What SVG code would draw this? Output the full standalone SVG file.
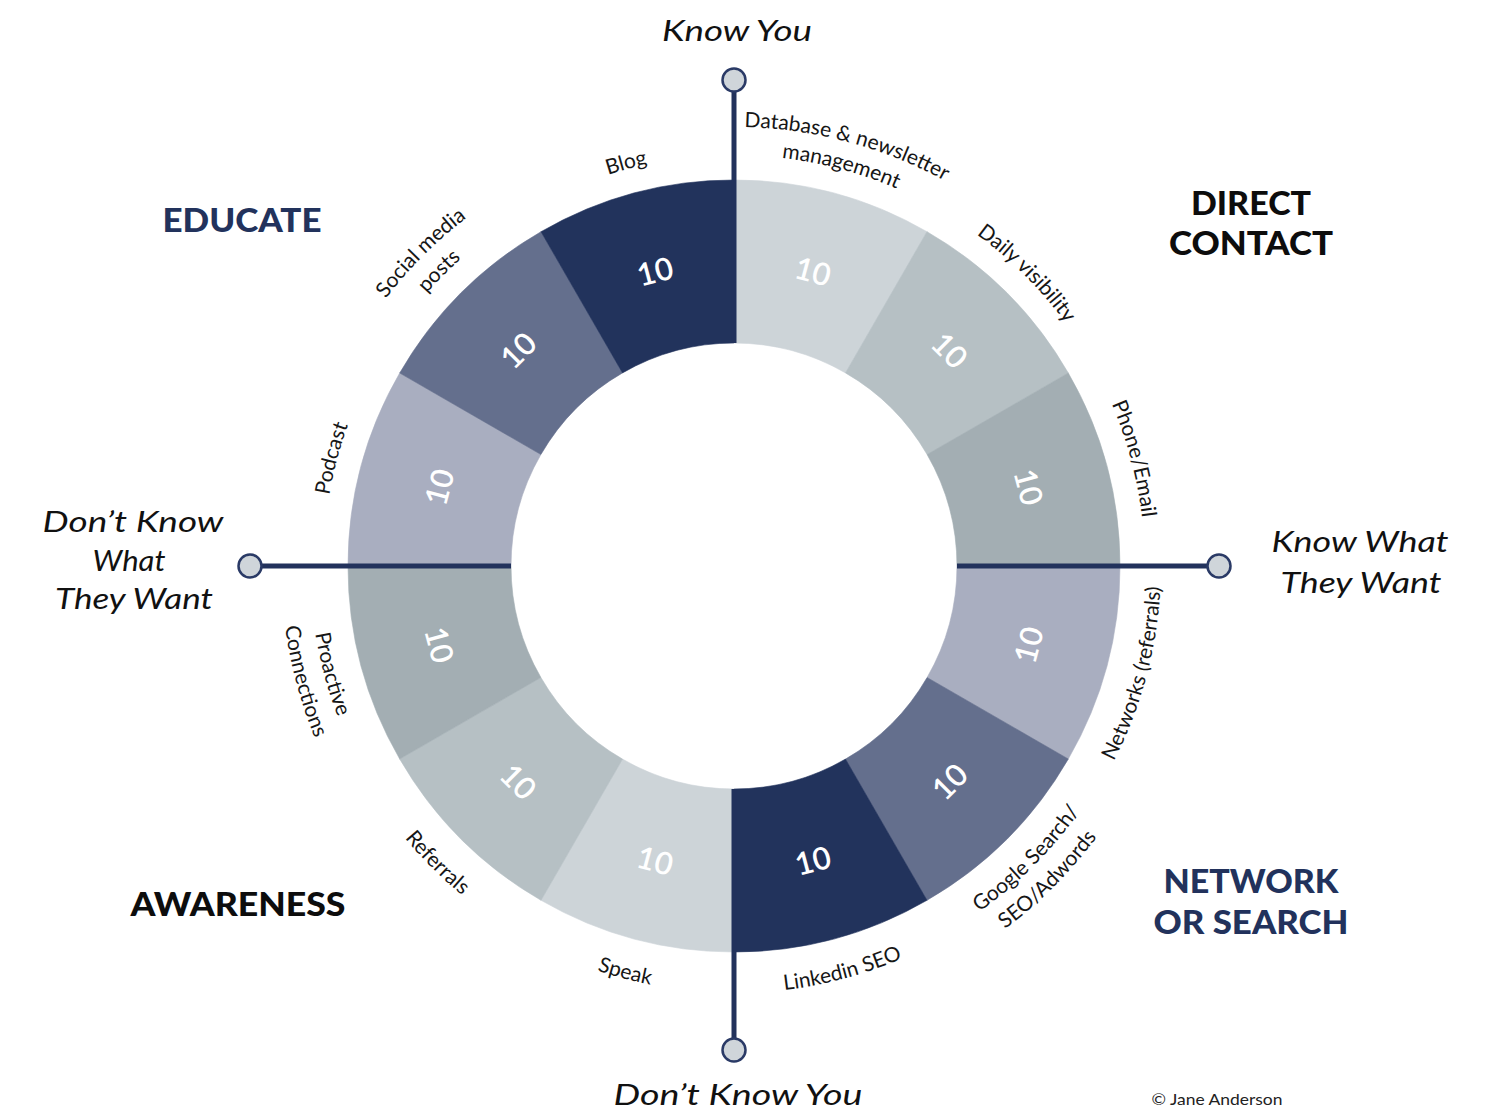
<svg xmlns="http://www.w3.org/2000/svg" xmlns:xlink="http://www.w3.org/1999/xlink" width="1491" height="1109" viewBox="0 0 1491 1109">
  <style>
    .lbl { font-family: Lato, "Noto Sans", "DejaVu Sans", sans-serif; font-size: 21px; fill: #161616; }
    .num { font-family: Lato, "Noto Sans", sans-serif; font-size: 31px; font-weight: 600; fill: #ffffff; text-anchor: middle; }
    .hd { font-family: Lato, "Noto Sans", sans-serif; font-size: 32px; font-weight: 900; text-anchor: middle; }
    .navy { fill: #22325c; }
    .black { fill: #0d0d0d; }
    .pole { font-family: Lato, "Noto Sans", sans-serif; font-style: italic; font-size: 29px; fill: #111111; text-anchor: middle; }
    .axis { stroke: #22325c; stroke-width: 5; fill: none; }
    .knob { fill: #cfd5da; stroke: #2a3a66; stroke-width: 2.5; }
    .c1 { fill: #cdd4d8; stroke: #cdd4d8; }
    .c2 { fill: #b6c0c4; stroke: #b6c0c4; }
    .c3 { fill: #a3aeb3; stroke: #a3aeb3; }
    .c4 { fill: #a9aec0; stroke: #a9aec0; }
    .c5 { fill: #646f8d; stroke: #646f8d; }
    .c6 { fill: #22335c; stroke: #22335c; }
    .seg { stroke-width: 0.6; }
  </style>
  <defs>
    <!-- label baselines: clockwise arcs for the upper half, counter-clockwise for the lower half -->
    <path id="pBlog" d="M378.1,360.5 A411,411 0 0 1 939.5,210.1"/>
    <path id="pDb1" d="M514.5,185.8 A439,439 0 0 1 1114.2,346.5"/>
    <path id="pDb2" d="M528.5,210.1 A411,411 0 0 1 1089.9,360.5"/>
    <path id="pSoc1" d="M295,566 A439,439 0 0 1 734,127"/>
    <path id="pSoc2" d="M323,566 A411,411 0 0 1 734,155"/>
    <path id="pDaily" d="M734,155 A411,411 0 0 1 1145,566"/>
    <path id="pPod" d="M378.1,771.5 A411,411 0 0 1 528.5,210.1"/>
    <path id="pPhone" d="M939.5,210.1 A411,411 0 0 1 1089.9,771.5"/>
    <path id="pNet" d="M947.5,935.8 A427,427 0 0 0 1103.8,352.5"/>
    <path id="pLink" d="M520.5,935.8 A427,427 0 0 0 1103.8,779.5"/>
    <path id="pSpeak" d="M364.2,779.5 A427,427 0 0 0 947.5,935.8"/>
    <path id="pRef" d="M307,566 A427,427 0 0 0 734,993"/>
    <path id="pGoo1" d="M734,990 A424,424 0 0 0 1158,566"/>
    <path id="pGoo2" d="M734,1019 A453,453 0 0 0 1187,566"/>
    <path id="pPro1" d="M366.8,354 A424,424 0 0 0 522,933.2"/>
    <path id="pPro2" d="M341.7,339.5 A453,453 0 0 0 507.5,958.3"/>
  </defs>

  <rect width="1491" height="1109" fill="#ffffff"/>

  <!-- ring segments, clockwise from 12 o'clock -->
  <g id="seg-database">
    <path class="seg c1" d="M734,180 A386,386 0 0 1 927,231.7 L845.5,372.9 A223,223 0 0 0 734,343 Z"/>
    <text class="num" transform="translate(812.9,271.4) rotate(15)" dy="0.36em">10</text>
    <text class="lbl" text-anchor="middle"><textPath href="#pDb1" xlink:href="#pDb1" startOffset="50%">Database &amp; newsletter</textPath></text>
    <text class="lbl" text-anchor="middle"><textPath href="#pDb2" xlink:href="#pDb2" startOffset="50%">management</textPath></text>
  </g>
  <g id="seg-daily">
    <path class="seg c2" d="M927,231.7 A386,386 0 0 1 1068.3,373 L927.1,454.5 A223,223 0 0 0 845.5,372.9 Z"/>
    <text class="num" transform="translate(949.7,350.3) rotate(45)" dy="0.36em">10</text>
    <text class="lbl" text-anchor="middle"><textPath href="#pDaily" xlink:href="#pDaily" startOffset="50%">Daily visibility</textPath></text>
  </g>
  <g id="seg-phone">
    <path class="seg c3" d="M1068.3,373 A386,386 0 0 1 1120,566 L957,566 A223,223 0 0 0 927.1,454.5 Z"/>
    <text class="num" transform="translate(1028.6,487.1) rotate(75)" dy="0.36em">10</text>
    <text class="lbl" text-anchor="middle"><textPath href="#pPhone" xlink:href="#pPhone" startOffset="50%">Phone/Email</textPath></text>
  </g>
  <g id="seg-networks">
    <path class="seg c4" d="M1120,566 A386,386 0 0 1 1068.3,759 L927.1,677.5 A223,223 0 0 0 957,566 Z"/>
    <text class="num" transform="translate(1028.6,644.9) rotate(-75)" dy="0.36em">10</text>
    <text class="lbl" text-anchor="middle"><textPath href="#pNet" xlink:href="#pNet" startOffset="50%">Networks (referrals)</textPath></text>
  </g>
  <g id="seg-google">
    <path class="seg c5" d="M1068.3,759 A386,386 0 0 1 927,900.3 L845.5,759.1 A223,223 0 0 0 927.1,677.5 Z"/>
    <text class="num" transform="translate(949.7,781.7) rotate(-45)" dy="0.36em">10</text>
    <text class="lbl" text-anchor="middle"><textPath href="#pGoo1" xlink:href="#pGoo1" startOffset="50%">Google Search/</textPath></text>
    <text class="lbl" text-anchor="middle"><textPath href="#pGoo2" xlink:href="#pGoo2" startOffset="50%">SEO/Adwords</textPath></text>
  </g>
  <g id="seg-linkedin">
    <path class="seg c6" d="M927,900.3 A386,386 0 0 1 734,952 L734,789 A223,223 0 0 0 845.5,759.1 Z"/>
    <text class="num" transform="translate(812.9,860.6) rotate(-15)" dy="0.36em">10</text>
    <text class="lbl" text-anchor="middle"><textPath href="#pLink" xlink:href="#pLink" startOffset="50%">Linkedin SEO</textPath></text>
  </g>
  <g id="seg-speak">
    <path class="seg c1" d="M734,952 A386,386 0 0 1 541,900.3 L622.5,759.1 A223,223 0 0 0 734,789 Z"/>
    <text class="num" transform="translate(655.1,860.6) rotate(15)" dy="0.36em">10</text>
    <text class="lbl" text-anchor="middle"><textPath href="#pSpeak" xlink:href="#pSpeak" startOffset="50%">Speak</textPath></text>
  </g>
  <g id="seg-referrals">
    <path class="seg c2" d="M541,900.3 A386,386 0 0 1 399.7,759 L540.9,677.5 A223,223 0 0 0 622.5,759.1 Z"/>
    <text class="num" transform="translate(518.3,781.7) rotate(45)" dy="0.36em">10</text>
    <text class="lbl" text-anchor="middle"><textPath href="#pRef" xlink:href="#pRef" startOffset="50%">Referrals</textPath></text>
  </g>
  <g id="seg-proactive">
    <path class="seg c3" d="M399.7,759 A386,386 0 0 1 348,566 L511,566 A223,223 0 0 0 540.9,677.5 Z"/>
    <text class="num" transform="translate(439.4,644.9) rotate(75)" dy="0.36em">10</text>
    <text class="lbl" text-anchor="middle"><textPath href="#pPro1" xlink:href="#pPro1" startOffset="50%">Proactive</textPath></text>
    <text class="lbl" text-anchor="middle"><textPath href="#pPro2" xlink:href="#pPro2" startOffset="50%">Connections</textPath></text>
  </g>
  <g id="seg-podcast">
    <path class="seg c4" d="M348,566 A386,386 0 0 1 399.7,373 L540.9,454.5 A223,223 0 0 0 511,566 Z"/>
    <text class="num" transform="translate(439.4,487.1) rotate(-75)" dy="0.36em">10</text>
    <text class="lbl" text-anchor="middle"><textPath href="#pPod" xlink:href="#pPod" startOffset="50%">Podcast</textPath></text>
  </g>
  <g id="seg-social">
    <path class="seg c5" d="M399.7,373 A386,386 0 0 1 541,231.7 L622.5,372.9 A223,223 0 0 0 540.9,454.5 Z"/>
    <text class="num" transform="translate(518.3,350.3) rotate(-45)" dy="0.36em">10</text>
    <text class="lbl" text-anchor="middle"><textPath href="#pSoc1" xlink:href="#pSoc1" startOffset="50%">Social media</textPath></text>
    <text class="lbl" text-anchor="middle"><textPath href="#pSoc2" xlink:href="#pSoc2" startOffset="50%">posts</textPath></text>
  </g>
  <g id="seg-blog">
    <path class="seg c6" d="M541,231.7 A386,386 0 0 1 734,180 L734,343 A223,223 0 0 0 622.5,372.9 Z"/>
    <text class="num" transform="translate(655.1,271.4) rotate(-15)" dy="0.36em">10</text>
    <text class="lbl" text-anchor="middle"><textPath href="#pBlog" xlink:href="#pBlog" startOffset="50%">Blog</textPath></text>
  </g>

  <!-- axis connectors -->
  <g id="axes">
    <line class="axis" x1="734" y1="92" x2="734" y2="343"/>
    <line class="axis" x1="734" y1="789" x2="734" y2="1038"/>
    <line class="axis" x1="262" y1="566" x2="511" y2="566"/>
    <line class="axis" x1="957" y1="566" x2="1207" y2="566"/>
  </g>

  <!-- axis end points -->
  <g id="pole-know-you">
    <circle class="knob" cx="734" cy="80" r="11.5"/>
    <text class="pole" x="737" y="41" textLength="150" lengthAdjust="spacingAndGlyphs">Know You</text>
  </g>
  <g id="pole-dont-know-you">
    <circle class="knob" cx="734" cy="1050" r="11.5"/>
    <text class="pole" x="738" y="1105" textLength="249" lengthAdjust="spacingAndGlyphs">Don’t Know You</text>
  </g>
  <g id="pole-dont-know-want">
    <circle class="knob" cx="250" cy="566" r="11.5"/>
    <text class="pole" x="133" y="532" textLength="181" lengthAdjust="spacingAndGlyphs">Don’t Know</text>
    <text class="pole" x="129" y="571" textLength="73" lengthAdjust="spacingAndGlyphs">What</text>
    <text class="pole" x="134" y="609" textLength="158" lengthAdjust="spacingAndGlyphs">They Want</text>
  </g>
  <g id="pole-know-want">
    <circle class="knob" cx="1219" cy="566" r="11.5"/>
    <text class="pole" x="1360" y="552" textLength="177" lengthAdjust="spacingAndGlyphs">Know What</text>
    <text class="pole" x="1361" y="593" textLength="161" lengthAdjust="spacingAndGlyphs">They Want</text>
  </g>

  <!-- quadrant headings -->
  <g id="head-educate">
    <text class="hd navy" x="242" y="232" textLength="159" lengthAdjust="spacingAndGlyphs">EDUCATE</text>
  </g>
  <g id="head-direct-contact">
    <text class="hd black" x="1251" y="215" textLength="120" lengthAdjust="spacingAndGlyphs">DIRECT</text>
    <text class="hd black" x="1251" y="255" textLength="164" lengthAdjust="spacingAndGlyphs">CONTACT</text>
  </g>
  <g id="head-awareness">
    <text class="hd black" x="238" y="916" textLength="215" lengthAdjust="spacingAndGlyphs">AWARENESS</text>
  </g>
  <g id="head-network-search">
    <text class="hd navy" x="1251" y="893" textLength="175" lengthAdjust="spacingAndGlyphs">NETWORK</text>
    <text class="hd navy" x="1251" y="934" textLength="195" lengthAdjust="spacingAndGlyphs">OR SEARCH</text>
  </g>

  <text x="1217" y="1105" font-family="Lato, 'Noto Sans', sans-serif" font-size="16" fill="#222222" text-anchor="middle" textLength="131" lengthAdjust="spacingAndGlyphs">© Jane Anderson</text>
</svg>
